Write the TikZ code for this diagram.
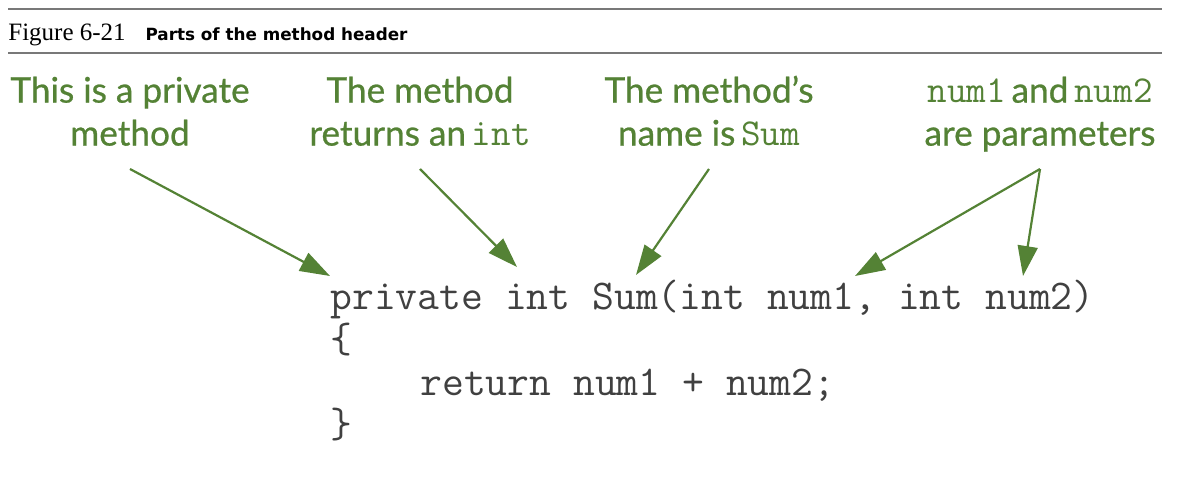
\documentclass[tikz,border=0pt]{standalone}
\usepackage{fontspec}
\setmainfont{Liberation Serif}
\newfontfamily\capfont{DejaVu Sans}
\newfontfamily\lblfont{Lato}[FakeBold=0.7]
\usetikzlibrary{positioning}
\usetikzlibrary{arrows.meta}
\definecolor{labelgreen}{RGB}{84,130,53}
\definecolor{codegray}{RGB}{64,64,64}
\definecolor{rulegray}{RGB}{120,120,120}
\tikzset{
  rule/.style= {draw=rulegray, line width=0.9pt},
  label/.style= {align=center, inner sep=0, text depth=0pt, anchor=south, text=labelgreen,
    font=\lblfont\fontsize{17.6}{21.5}\selectfont},
  code/.style= {anchor=base west, inner sep=0, text=codegray,
    font=\ttfamily\fontsize{21.2}{24}\selectfont},
  pointer/.style= {draw=labelgreen, line width=1.1pt,
    -{Triangle[length=15pt, width=10pt]}},
}
\newcommand{\lblcode}[1]{{\ttfamily\fontsize{19}{21}\selectfont #1}}

\begin{document}
\begin{tikzpicture}[x=0.5pt, y=-0.5pt]
  \useasboundingbox (0,0) rectangle (1182,490) ;

  % caption
  \draw [rule] (8,9) -- (1162,9) ;
  \draw [rule] (8,53) -- (1162,53) ;
  \node [anchor=base west, inner sep=0, font=\fontsize{12.5}{14}\selectfont] (figno) at (8,41) {Figure 6-21} ;
  \node [base right=9.5pt of figno, inner sep=0, font=\capfont\bfseries\fontsize{8.4}{10}\selectfont] (figcap) {Parts of the method header} ;

  % labels
  \node [label] (lblPriv) at (130,146) {This is a private\\method} ;
  \node [label] (lblInt) at (420,146) {The method\\returns an\,\lblcode{int}} ;
  \node [label] (lblSum) at (709,146) {The method’s\\name is\,\lblcode{Sum}} ;
  \node [label] (lblParam) at (1040,146) {\lblcode{num1}\,and\,\lblcode{num2}\\are parameters} ;

  % code
  \node [code] (codeHead) at (330,310) {private int Sum(int num1, int num2)} ;
  \node [code] (codeOpen) at (330,353) {\{} ;
  \node [code] (codeBody) at (420,396) {return num1 + num2;} ;
  \node [code] (codeClose) at (330,438) {\}} ;

  \coordinate (tipPriv) at (330,276) ;
  \coordinate (tipInt) at (517,267) ;
  \coordinate (tipSum) at (636,275) ;
  \coordinate (tipNumA) at (855,276) ;
  \coordinate (tipNumB) at (1023,276) ;
  \coordinate (paramFork) at ([yshift=-11.5pt]lblParam.south) ;

  \draw [pointer] ([yshift=-11.5pt]lblPriv.south) -- (tipPriv) ;
  \draw [pointer] ([yshift=-11.5pt]lblInt.south) -- (tipInt) ;
  \draw [pointer] ([yshift=-11.5pt]lblSum.south) -- (tipSum) ;
  \draw [pointer] (paramFork) -- (tipNumA) ;
  \draw [pointer] (paramFork) -- (tipNumB) ;
\end{tikzpicture}
\end{document}
